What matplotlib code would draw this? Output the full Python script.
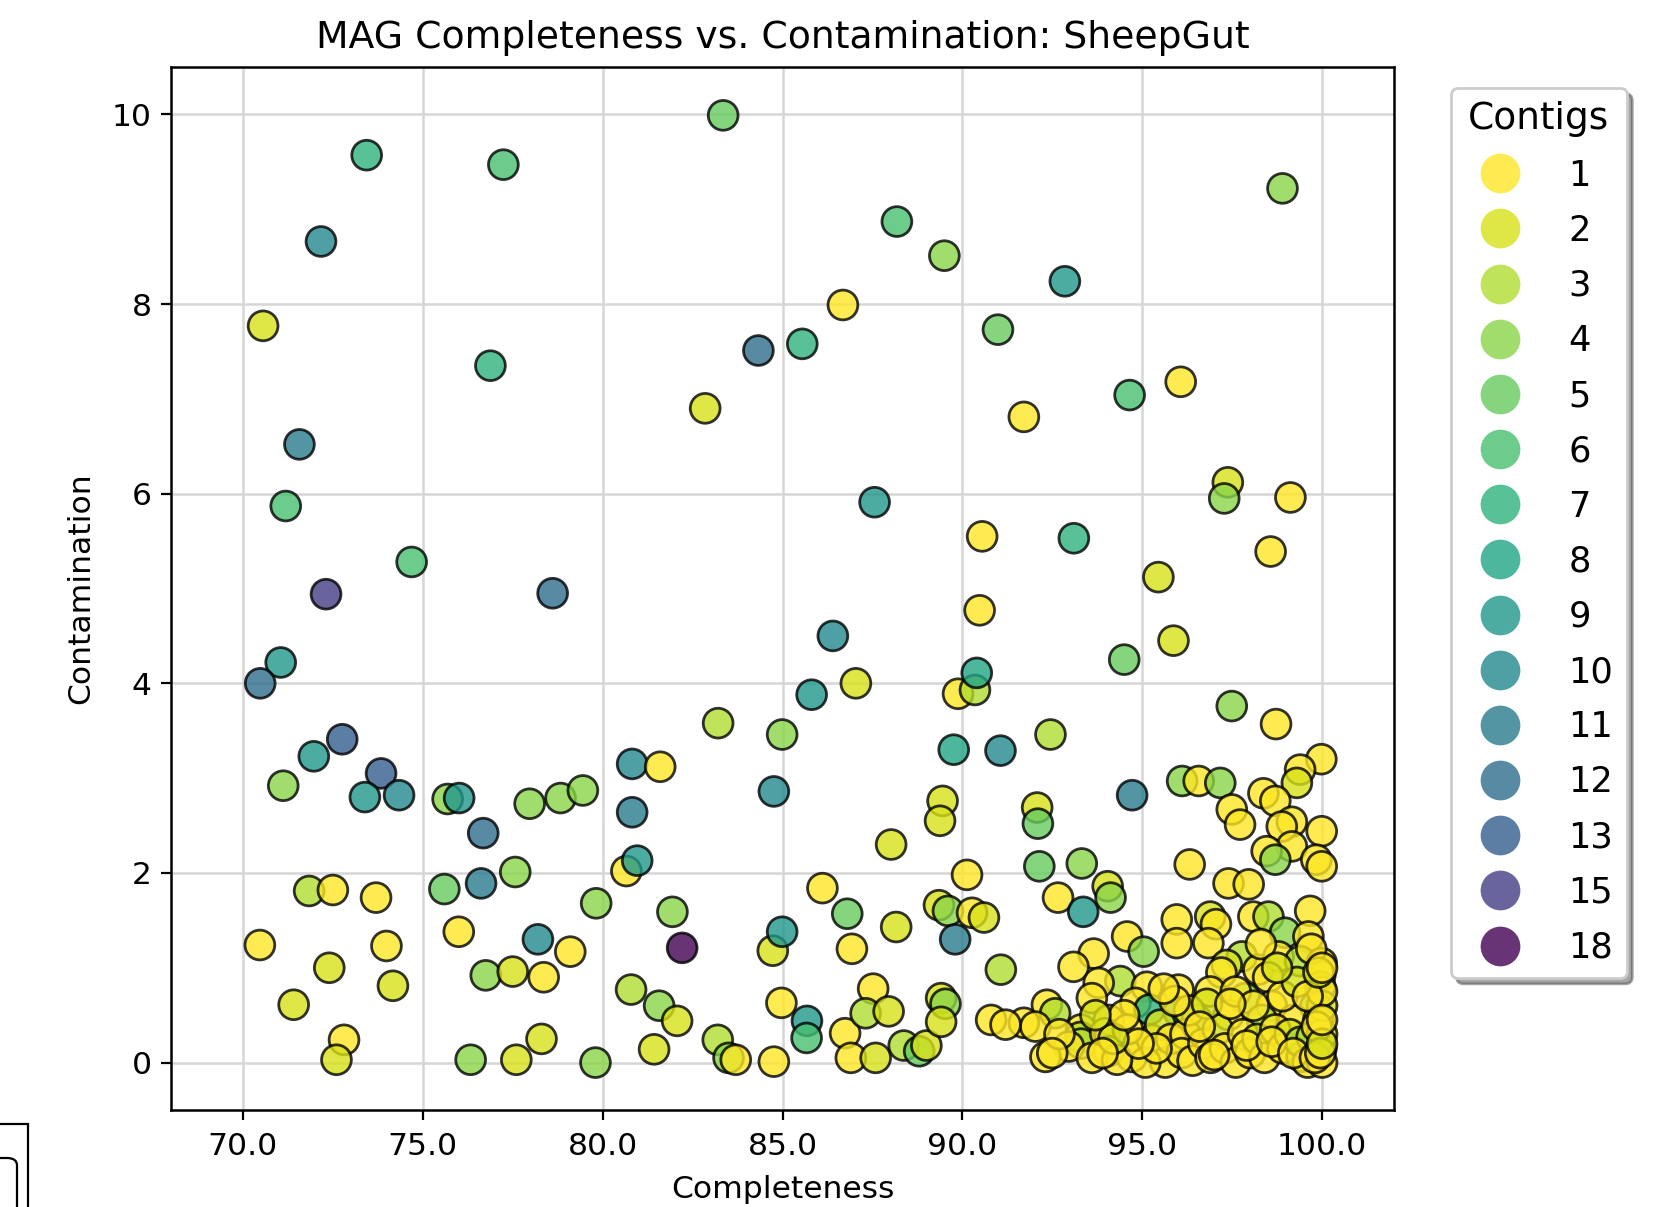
import matplotlib
matplotlib.use("Agg")
import matplotlib.pyplot as plt
import numpy as np
from matplotlib.lines import Line2D
from matplotlib.patches import Rectangle, FancyBboxPatch

plt.rcParams['font.family'] = ['DejaVu Sans']

# ---- data: scattered MAGs ----
sparse_completeness = [
    83.35, 73.44, 77.24, 98.90, 72.17, 88.18, 89.50, 92.85, 70.56, 86.68,
    84.33, 85.55, 90.99, 76.88, 82.85, 91.71, 96.07, 94.65, 71.57, 71.19,
    87.56, 97.38, 97.28, 99.12, 74.69, 72.31, 78.61, 90.55, 93.10, 98.57,
    95.45, 90.48, 95.87, 71.05, 70.48, 86.40, 85.81, 87.04, 89.88, 90.35,
    90.40, 94.50, 97.49, 98.72, 83.21, 84.99, 89.76, 91.06, 92.45, 99.98,
    99.39, 99.30, 96.11, 96.57, 97.17, 72.76, 71.97, 71.12, 73.84, 73.39,
    74.34, 75.69, 76.01, 76.68, 77.97, 78.83, 79.45, 80.82, 81.60, 80.82,
    84.76, 94.72, 98.37, 98.70, 97.49, 97.72, 99.16, 98.88, 99.99, 99.16,
    98.46, 98.70, 99.84, 99.99, 96.32, 89.45, 89.38, 92.08, 92.10, 88.02,
    90.13, 92.14, 93.32, 71.84, 72.50, 73.70, 75.60, 77.57, 76.62, 80.66,
    80.96, 79.82, 81.94, 86.11, 86.80, 89.35, 89.60, 90.27, 90.60, 92.66,
    93.36, 94.04, 94.12, 97.40, 97.96, 70.47, 76.00, 78.20, 79.10, 73.99,
    71.41, 72.40, 74.17, 76.75, 77.50, 78.36, 82.21, 72.81, 72.60, 76.33,
    77.60, 78.30, 79.80, 80.79, 81.57, 81.43, 82.07, 83.20, 83.50, 83.70,
    84.76, 84.73, 84.99, 84.97, 85.68, 85.67, 86.74, 86.90, 86.93, 87.52,
    87.31, 87.95, 88.16, 87.59, 88.37, 88.80, 89.00, 89.41, 89.53, 89.41,
    89.80, 91.07, 90.80,
]
sparse_contamination = [
    9.99, 9.57, 9.47, 9.22, 8.66, 8.87, 8.51, 8.24, 7.77, 7.99,
    7.51, 7.58, 7.73, 7.35, 6.90, 6.81, 7.18, 7.04, 6.52, 5.87,
    5.91, 6.12, 5.95, 5.96, 5.28, 4.94, 4.95, 5.55, 5.53, 5.39,
    5.12, 4.77, 4.45, 4.22, 4.00, 4.50, 3.88, 4.00, 3.89, 3.93,
    4.11, 4.25, 3.76, 3.57, 3.58, 3.46, 3.30, 3.29, 3.46, 3.20,
    3.09, 2.95, 2.97, 2.97, 2.95, 3.41, 3.23, 2.92, 3.05, 2.80,
    2.82, 2.78, 2.79, 2.42, 2.73, 2.79, 2.87, 3.15, 3.12, 2.64,
    2.86, 2.82, 2.84, 2.76, 2.67, 2.51, 2.54, 2.49, 2.44, 2.28,
    2.23, 2.14, 2.14, 2.07, 2.09, 2.76, 2.55, 2.69, 2.52, 2.30,
    1.98, 2.07, 2.10, 1.81, 1.82, 1.74, 1.83, 2.01, 1.89, 2.02,
    2.13, 1.68, 1.59, 1.84, 1.57, 1.66, 1.60, 1.58, 1.53, 1.74,
    1.59, 1.86, 1.74, 1.89, 1.88, 1.24, 1.38, 1.30, 1.17, 1.23,
    0.61, 1.00, 0.81, 0.92, 0.96, 0.90, 1.21, 0.24, 0.03, 0.03,
    0.03, 0.25, 0.00, 0.77, 0.60, 0.14, 0.44, 0.24, 0.05, 0.03,
    0.01, 1.18, 1.38, 0.63, 0.44, 0.26, 0.31, 0.05, 1.20, 0.78,
    0.52, 0.54, 1.43, 0.05, 0.18, 0.12, 0.18, 0.68, 0.62, 0.43,
    1.30, 0.98, 0.45,
]
sparse_contigs = [
    5, 7, 6, 4, 10, 6, 4, 9, 2, 1,
    12, 7, 5, 7, 2, 1, 1, 6, 11, 6,
    9, 2, 4, 1, 6, 15, 12, 1, 7, 1,
    2, 1, 2, 9, 12, 10, 9, 2, 1, 3,
    8, 5, 4, 1, 3, 4, 8, 10, 3, 1,
    1, 2, 4, 1, 4, 13, 9, 4, 13, 9,
    10, 4, 9, 12, 4, 4, 4, 10, 1, 11,
    10, 11, 1, 1, 1, 1, 1, 1, 1, 1,
    1, 4, 1, 1, 1, 2, 2, 2, 5, 2,
    1, 5, 4, 3, 1, 1, 5, 4, 11, 1,
    9, 4, 4, 1, 5, 2, 4, 1, 2, 1,
    9, 2, 4, 1, 1, 1, 1, 10, 1, 1,
    2, 2, 2, 4, 2, 1, 18, 1, 2, 4,
    2, 2, 4, 3, 4, 2, 2, 3, 4, 1,
    1, 2, 9, 1, 9, 6, 1, 1, 1, 1,
    3, 2, 2, 2, 3, 5, 2, 2, 4, 2,
    11, 3, 1,
]

# ---- data: dense cluster of near-complete MAGs ----
cluster_completeness = [
    95.96, 96.89, 97.05, 98.09, 98.51, 99.67, 98.97, 99.62, 95.96, 96.84,
    94.58, 95.04, 93.65, 93.09, 97.77, 97.35, 98.23, 98.79, 99.39, 99.99,
    99.95, 98.50, 97.20, 94.39, 93.79, 95.13, 96.01, 96.89, 99.95, 97.86,
    98.60, 99.81, 93.60, 94.81, 92.35, 92.58, 95.20, 96.02, 96.52, 97.40,
    98.33, 99.20, 99.90, 91.71, 92.03, 93.30, 94.07, 93.28, 93.30, 93.97,
    92.96, 92.31, 94.07, 94.71, 95.27, 95.64, 95.09, 93.60, 94.30, 94.60,
    95.50, 95.80, 96.20, 96.10, 96.40, 96.70, 96.90, 97.10, 97.30, 97.60,
    97.80, 98.00, 98.20, 98.40, 98.70, 98.90, 99.10, 99.43, 99.40, 99.71,
    99.60, 99.98, 100.00, 100.00, 100.00, 100.00, 99.85, 95.40, 94.90, 94.20,
    93.90, 92.70, 92.50, 96.30, 96.80, 97.60, 98.10, 98.90, 99.30, 99.60,
    97.00, 97.90, 98.60, 99.20, 99.80, 96.60, 95.90, 95.60, 97.45, 94.50,
    93.70, 98.30, 99.70, 98.75, 99.95, 100.00, 100.00, 99.90, 100.00, 91.20,
]
cluster_contamination = [
    1.51, 1.54, 1.46, 1.54, 1.54, 1.60, 1.37, 1.33, 1.26, 1.26,
    1.33, 1.17, 1.15, 1.01, 1.12, 1.03, 0.98, 1.12, 1.07, 1.05,
    0.92, 0.90, 0.95, 0.86, 0.84, 0.80, 0.77, 0.75, 0.80, 0.68,
    0.60, 0.59, 0.68, 0.63, 0.61, 0.52, 0.56, 0.53, 0.45, 0.50,
    0.45, 0.45, 0.45, 0.42, 0.38, 0.35, 0.45, 0.27, 0.20, 0.31,
    0.17, 0.06, 0.12, 0.06, 0.24, 0.00, 0.00, 0.05, 0.03, 0.35,
    0.40, 0.25, 0.30, 0.10, 0.02, 0.20, 0.05, 0.35, 0.15, 0.00,
    0.30, 0.10, 0.25, 0.05, 0.35, 0.15, 0.30, 0.06, 0.22, 0.27,
    0.00, 0.15, 0.00, 0.30, 0.60, 0.75, 0.38, 0.15, 0.20, 0.25,
    0.10, 0.30, 0.10, 0.55, 0.62, 0.75, 0.60, 0.70, 0.85, 0.70,
    0.08, 0.18, 0.22, 0.10, 0.05, 0.38, 0.65, 0.78, 0.62, 0.50,
    0.50, 1.25, 1.20, 1.00, 0.10, 0.20, 0.45, 0.95, 1.00, 0.40,
]
cluster_contigs = [
    1, 2, 1, 1, 3, 1, 4, 1, 1, 1,
    1, 4, 1, 1, 3, 2, 1, 1, 3, 1,
    1, 1, 1, 3, 1, 1, 1, 1, 3, 4,
    1, 4, 1, 1, 1, 3, 7, 8, 4, 1,
    3, 1, 1, 1, 1, 1, 1, 3, 3, 1,
    1, 1, 1, 1, 1, 1, 1, 1, 1, 1,
    2, 1, 1, 1, 1, 1, 1, 2, 1, 1,
    1, 1, 2, 1, 1, 1, 2, 3, 3, 3,
    1, 1, 1, 1, 2, 1, 1, 1, 1, 2,
    1, 1, 1, 1, 2, 1, 1, 1, 2, 1,
    1, 1, 1, 1, 1, 1, 1, 1, 1, 1,
    2, 1, 1, 2, 1, 2, 1, 2, 1, 1,
]

legend_values = [1, 2, 3, 4, 5, 6, 7, 8, 9, 10, 11, 12, 13, 15, 18]

completeness = np.array(sparse_completeness + cluster_completeness)
contamination = np.array(sparse_contamination + cluster_contamination)
contigs = np.array(sparse_contigs + cluster_contigs)

# ---- figure ----
W, H, DPI = 1675, 1207, 200
fig = plt.figure(figsize=(W / DPI, H / DPI), dpi=DPI)
ax = fig.add_axes([171 / W, 1 - 1110 / H, (1394 - 171) / W, (1110 - 67) / H])

cmap = plt.get_cmap('viridis_r')
norm = plt.Normalize(vmin=min(legend_values), vmax=max(legend_values))
alpha = 0.8

ax.scatter(completeness, contamination, c=contigs, cmap=cmap, norm=norm,
           s=115, alpha=alpha, edgecolors='black', linewidths=1.0, zorder=3)

ax.set_xlim(68, 102)
ax.set_ylim(-0.5, 10.5)
ax.set_xticks([70, 75, 80, 85, 90, 95, 100])
ax.set_xticklabels([f"{v:.1f}" for v in [70, 75, 80, 85, 90, 95, 100]])
ax.set_yticks([0, 2, 4, 6, 8, 10])
ax.tick_params(labelsize=11.3)
ax.tick_params(axis='x', pad=4.5)
ax.grid(True, color='#d6d6d6', linewidth=0.9)
ax.set_axisbelow(True)
for sp in ax.spines.values():
    sp.set_linewidth(0.9)

ax.set_xlabel('Completeness', fontsize=11.3, labelpad=5)
ax.set_ylabel('Contamination', fontsize=11.3, labelpad=6)
ax.set_title('MAG Completeness vs. Contamination: SheepGut', fontsize=13.6, pad=6.8)

handles = []
for v in legend_values:
    col = list(cmap(norm(v)))
    col[3] = alpha
    handles.append(Line2D([], [], linestyle='', marker='o', markersize=14.3,
                          markerfacecolor=col, markeredgewidth=0))
leg = fig.legend(handles, [str(v) for v in legend_values], title='Contigs',
                 loc='upper left', bbox_to_anchor=(1451 / W, 1 - 88 / H),
                 bbox_transform=fig.transFigure, borderaxespad=0,
                 fontsize=12.7, title_fontsize=13.5, shadow=True,
                 frameon=True, labelspacing=0.60, handletextpad=0.95,
                 borderpad=0.38)
leg.get_frame().set_edgecolor('#cccccc')

# partial box artifact at the bottom-left corner
fig.patches.append(Rectangle((-0.05, -0.05), 0.05 + 28 / W, 0.05 + (1 - 1124 / H),
                             transform=fig.transFigure, fill=False,
                             edgecolor='black', linewidth=0.8))
fig.patches.append(FancyBboxPatch((-0.05, -0.05), 0.05 + 17 / W, 0.05 + (1 - 1158 / H),
                                  boxstyle='round,pad=0,rounding_size=0.006',
                                  transform=fig.transFigure, fill=False,
                                  edgecolor='black', linewidth=0.8))

fig.savefig('out.png', dpi=DPI)
